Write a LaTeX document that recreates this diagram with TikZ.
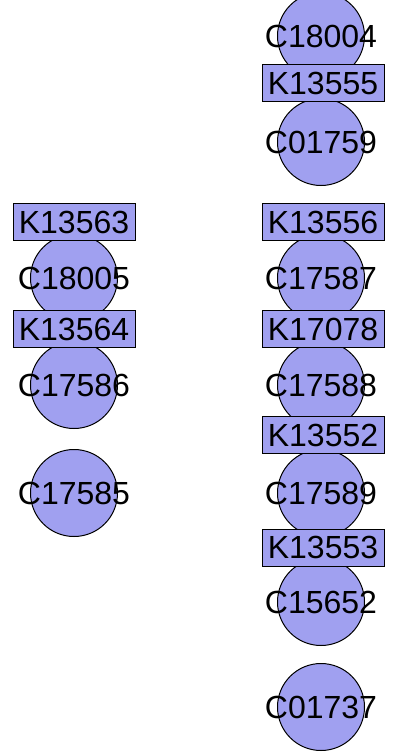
\documentclass[tikz,border=0pt]{standalone}
\usepackage{fontspec}
\setmainfont{Liberation Sans}
\definecolor{nodefill}{RGB}{160,160,240}
\begin{document}
\begin{tikzpicture}[x=1pt,y=-1pt,
  cpd/.style={circle,draw=black,fill=nodefill,line width=1pt,minimum size=87pt,inner sep=0pt},
  cpdlabel/.style={font=\fontsize{32}{32}\selectfont,inner sep=0pt},
  ko/.style={rectangle,draw=black,fill=nodefill,line width=1pt,minimum width=122pt,minimum height=37pt,inner sep=0pt,font=\fontsize{32}{32}\selectfont}]
\useasboundingbox (0,0) rectangle (394,754);
% compounds (circles first)
\node[cpd] (c18004) at (321,36) {};
\node[cpd] (c01759) at (321,142) {};
\node[cpd] (c17587) at (321,278) {};
\node[cpd] (c17588) at (321,385) {};
\node[cpd] (c17589) at (321,493) {};
\node[cpd] (c15652) at (321,602) {};
\node[cpd] (c01737) at (321,707) {};
\node[cpd] (c18005) at (74,278) {};
\node[cpd] (c17586) at (74,385) {};
\node[cpd] (c17585) at (74,493) {};
% compound labels
\node[cpdlabel] (l18004) at (c18004) {C18004};
\node[cpdlabel] (l01759) at (c01759) {C01759};
\node[cpdlabel] (l17587) at (c17587) {C17587};
\node[cpdlabel] (l17588) at (c17588) {C17588};
\node[cpdlabel] (l17589) at (c17589) {C17589};
\node[cpdlabel] (l15652) at (c15652) {C15652};
\node[cpdlabel] (l01737) at (c01737) {C01737};
\node[cpdlabel] (l18005) at (c18005) {C18005};
\node[cpdlabel] (l17586) at (c17586) {C17586};
\node[cpdlabel] (l17585) at (c17585) {C17585};
% orthologs (boxes on top)
\node[ko] (k13555) at (323,83.5) {K13555};
\node[ko] (k13556) at (323,222) {K13556};
\node[ko] (k17078) at (323,329) {K17078};
\node[ko] (k13552) at (323,435) {K13552};
\node[ko] (k13553) at (323,547.5) {K13553};
\node[ko] (k13563) at (74,222) {K13563};
\node[ko] (k13564) at (74,329) {K13564};
\end{tikzpicture}
\end{document}
